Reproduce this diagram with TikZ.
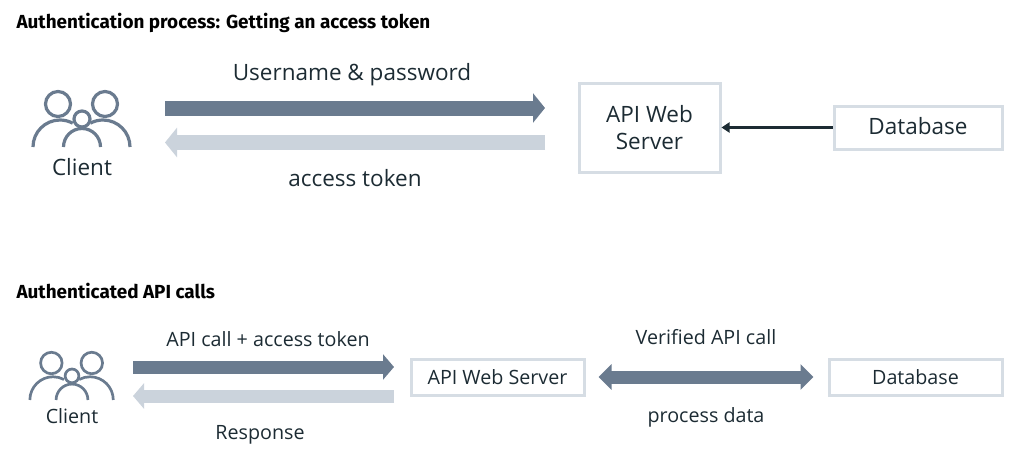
\documentclass[tikz,border=0pt]{standalone}
\usepackage{fontspec}
\setmainfont{Open Sans}
\newfontfamily\headfont{Fira Sans}
\usetikzlibrary{arrows.meta}
\definecolor{darkarrow}{HTML}{6A7B8F}
\definecolor{lightarrow}{HTML}{CBD3DC}
\definecolor{boxline}{HTML}{D6DDE4}
\definecolor{inktext}{HTML}{1C2B33}
\tikzset{
  heading/.style={anchor=west, text=black, font=\headfont\fontsize{18.9}{20}\selectfont\bfseries},
  biglabel/.style={text=inktext, font=\fontsize{22.5}{27}\selectfont, align=center},
  smalllabel/.style={text=inktext, font=\fontsize{19.7}{22}\selectfont},
  serverbox/.style={draw=boxline, line width=3pt, fill=white, inner sep=0pt, align=center},
  fatdark/.style={line width=15pt, draw=darkarrow, -{Triangle[length=12pt,width=29pt]}},
  fatlight/.style={line width=15pt, draw=lightarrow, -{Triangle[length=12pt,width=29pt]}},
  fatboth/.style={line width=13pt, draw=darkarrow, {Triangle[length=13pt,width=25pt]}-{Triangle[length=13pt,width=25pt]}},
  clienticon/.pic={
    \draw[draw=darkarrow] (-24,0) circle (12.5);
    \draw[draw=darkarrow] (23,0) circle (12.5);
    \draw[draw=darkarrow] (-49,43) arc (-180:-62:27);
    \draw[draw=darkarrow] (48,43) arc (0:-118:27);
    \draw[draw=darkarrow, fill=white] (0,15) circle (8);
    \draw[draw=darkarrow] (-18.5,43) arc (-180:0:18.5);
  },
}
\begin{document}
\begin{tikzpicture}[x=1pt, y=-1pt]
\useasboundingbox (0,0) rectangle (1036,474);

% getting the token
\node[heading] (headone) at (13,22.5) {Authentication process: Getting an access token};
\pic[line width=3.2pt] at (82,104) {clienticon};
\node[biglabel] (clientone) at (82,167) {Client};
\node[serverbox, minimum width=141pt, minimum height=89pt, biglabel] (serverone) at (649.5,127.5) {API Web\\Server};
\node[serverbox, minimum width=168pt, minimum height=43pt, biglabel, text depth=4pt] (baseone) at (918,127.5) {Database};
\coordinate (sendfrom) at (165,108);
\coordinate (sendto) at (545,108);
\coordinate (backfrom) at (545,142.5);
\coordinate (backto) at (165,142.5);
\draw[fatdark] (sendfrom) -- (sendto);
\draw[fatlight] (backfrom) -- (backto);
\node[biglabel] (userlabel) at (352,75) {Username \& password};
\node[biglabel] (tokenlabel) at (355,178) {access token};
\draw[line width=2.5pt, draw=inktext, -{Triangle[length=8pt,width=10pt]}] (baseone) -- (serverone);

% calls with the token
\node[heading] (headtwo) at (13,290.5) {Authenticated API calls};
\pic[scale=.86, line width=2.7pt] at (72,363) {clienticon};
\node[smalllabel] (clienttwo) at (72,416) {Client};
\node[serverbox, minimum width=173pt, minimum height=36pt, smalllabel] (servertwo) at (497.5,377) {API Web Server};
\node[serverbox, minimum width=173pt, minimum height=36pt, smalllabel] (basetwo) at (915.5,377) {Database};
\coordinate (callfrom) at (133,367);
\coordinate (callto) at (394,367);
\coordinate (respfrom) at (394,396);
\coordinate (respto) at (133,396);
\draw[fatdark, line width=13pt, -{Triangle[length=11pt,width=25pt]}] (callfrom) -- (callto);
\draw[fatlight, line width=13pt, -{Triangle[length=11pt,width=25pt]}] (respfrom) -- (respto);
\draw[fatboth, shorten >=14pt, shorten <=13pt] (servertwo) -- (basetwo);
\node[smalllabel] (calllabel) at (268,339) {API call + access token};
\node[smalllabel] (resplabel) at (260,435) {Response};
\node[smalllabel] (verilabel) at (706,337) {Verified API call};
\node[smalllabel] (proclabel) at (706,417) {process data};
\end{tikzpicture}
\end{document}
